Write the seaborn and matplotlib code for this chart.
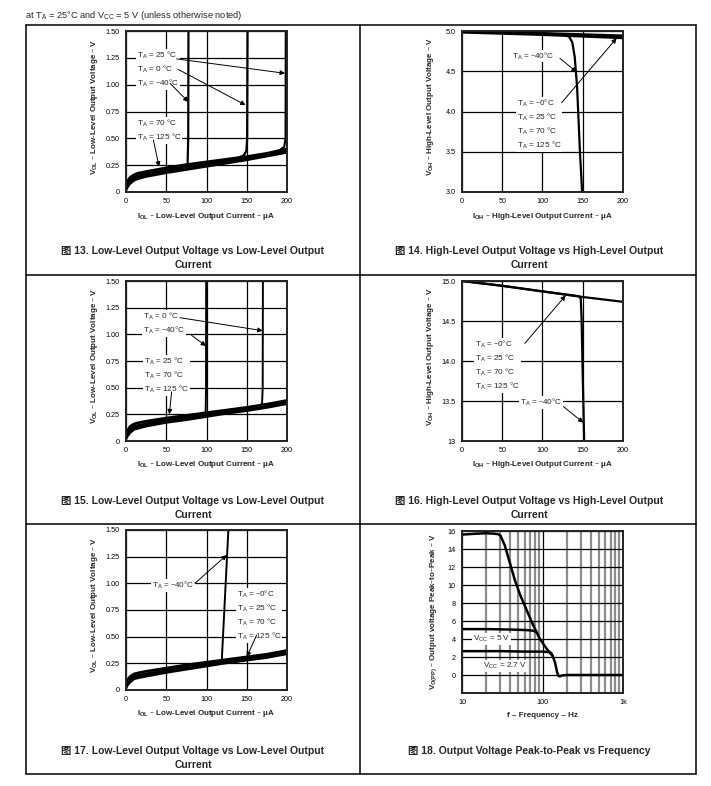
import matplotlib
matplotlib.use("Agg")
import matplotlib.pyplot as plt
from matplotlib.lines import Line2D
from matplotlib.ticker import FixedLocator, NullFormatter
import seaborn as sns

sns.set_style("white")
plt.rcParams["font.family"] = ["Liberation Sans", "Noto Sans CJK SC"]
plt.rcParams["mathtext.default"] = "regular"

# ---- Fig 13: VOL vs IOL (VCC = 5 V) ----
iol_band = [0, 2, 5, 10, 15, 25, 50, 75, 100, 125, 150, 175, 200]
vol13_hot = [0.05, 0.10, 0.135, 0.16, 0.175, 0.19, 0.225, 0.255, 0.28, 0.305, 0.33, 0.36, 0.40]
vol13_mid = [0.035, 0.075, 0.105, 0.135, 0.15, 0.17, 0.205, 0.235, 0.26, 0.29, 0.315, 0.35, 0.385]
vol13_cold = [0.02, 0.05, 0.08, 0.11, 0.125, 0.145, 0.18, 0.21, 0.24, 0.27, 0.30, 0.335, 0.37]
iol13_m40 = [0, 2, 5, 10, 15, 25, 50, 75, 76.5, 77.3, 77.6]
vol13_m40 = [0.03, 0.07, 0.10, 0.13, 0.145, 0.165, 0.20, 0.235, 0.26, 0.5, 1.6]
iol13_0 = [0, 2, 5, 10, 15, 25, 50, 75, 100, 125, 138, 146, 149.5, 150.5, 151]
vol13_0 = [0.03, 0.07, 0.10, 0.13, 0.145, 0.165, 0.20, 0.235, 0.26, 0.29, 0.315, 0.34, 0.38, 0.5, 1.6]
iol13_25 = [0, 2, 5, 10, 15, 25, 50, 75, 100, 125, 150, 175, 191, 196.5, 198.3, 198.6]
vol13_25 = [0.03, 0.07, 0.10, 0.13, 0.145, 0.165, 0.20, 0.235, 0.26, 0.29, 0.32, 0.35, 0.39, 0.42, 0.5, 1.6]

# ---- Fig 14: VOH vs IOH (VCC = 5 V) ----
ioh_line = [0, 50, 100, 150, 200]
voh14_hi = [5.0, 4.985, 4.97, 4.955, 4.94]
voh14_lo = [4.985, 4.97, 4.955, 4.935, 4.915]
ioh14_m40 = [0, 50, 100, 125, 133, 137, 140, 143, 146.5, 149.5]
voh14_m40 = [5.0, 4.985, 4.97, 4.955, 4.93, 4.86, 4.68, 4.3, 3.5, 2.95]

# ---- Fig 15: VOL vs IOL ----
vol15_hot = [0.05, 0.10, 0.135, 0.16, 0.17, 0.185, 0.215, 0.24, 0.265, 0.29, 0.315, 0.345, 0.38]
vol15_mid = [0.035, 0.075, 0.105, 0.135, 0.145, 0.16, 0.195, 0.22, 0.25, 0.275, 0.30, 0.33, 0.365]
vol15_cold = [0.02, 0.05, 0.08, 0.11, 0.12, 0.14, 0.175, 0.2, 0.23, 0.26, 0.285, 0.315, 0.35]
iol15_m40 = [0, 2, 5, 10, 15, 25, 50, 75, 97, 99, 99.4, 99.6]
vol15_m40 = [0.03, 0.07, 0.10, 0.13, 0.14, 0.16, 0.195, 0.22, 0.255, 0.28, 0.5, 1.6]
iol15_0 = [0, 2, 5, 10, 15, 25, 50, 75, 100, 125, 150, 165, 169, 169.8, 170.1]
vol15_0 = [0.03, 0.07, 0.10, 0.13, 0.14, 0.16, 0.195, 0.22, 0.25, 0.275, 0.30, 0.325, 0.35, 0.5, 1.6]

# ---- Fig 16: VOH vs IOH ----
voh16 = [15.0, 14.94, 14.87, 14.80, 14.74]
ioh16_m40 = [0, 50, 100, 145, 147.5, 148.5, 150, 152]
voh16_m40 = [15.0, 14.94, 14.87, 14.81, 14.78, 14.55, 13.8, 12.9]

# ---- Fig 17: VOL vs IOL ----
vol17_hot = [0.05, 0.095, 0.125, 0.15, 0.16, 0.175, 0.205, 0.235, 0.26, 0.285, 0.31, 0.335, 0.37]
vol17_mid = [0.035, 0.07, 0.1, 0.125, 0.135, 0.15, 0.185, 0.215, 0.245, 0.27, 0.295, 0.32, 0.355]
vol17_cold = [0.02, 0.05, 0.075, 0.105, 0.115, 0.13, 0.165, 0.195, 0.225, 0.255, 0.28, 0.305, 0.34]
iol17_m40 = [0, 2, 5, 10, 15, 25, 50, 75, 100, 117, 119, 127.5]
vol17_m40 = [0.03, 0.07, 0.10, 0.125, 0.135, 0.15, 0.185, 0.215, 0.245, 0.265, 0.28, 1.55]

# ---- Fig 18: VO(PP) vs frequency ----
freq_main = [10, 15, 20, 25, 28, 30, 34, 39.5, 45.5, 52.5, 63.6, 76.9, 93, 113, 134, 143, 152, 158, 164, 175, 200, 1000]
vpp_main = [15.6, 15.7, 15.75, 15.7, 15.65, 15.5, 14.4, 12.4, 10.5, 8.95, 7.2, 5.5, 4.0, 2.9, 2.1, 1.4, 0.3, -0.1, -0.15, -0.05, 0, 0]
freq_5v = [10, 20, 40, 60, 72, 78, 84]
vpp_5v = [5.1, 5.1, 5.05, 5.0, 4.95, 4.9, 4.75]
freq_27v = [10, 30, 60, 100, 120, 128, 134]
vpp_27v = [2.65, 2.65, 2.6, 2.6, 2.55, 2.45, 2.1]

vol_ticks = [0, 0.25, 0.5, 0.75, 1.0, 1.25, 1.5]
vol_labels = ["0", "0.25", "0.50", "0.75", "1.00", "1.25", "1.50"]
i_ticks = [0, 50, 100, 150, 200]
captions = [
    "图 13. Low-Level Output Voltage vs Low-Level Output\nCurrent",
    "图 14. High-Level Output Voltage vs High-Level Output\nCurrent",
    "图 15. Low-Level Output Voltage vs Low-Level Output\nCurrent",
    "图 16. High-Level Output Voltage vs High-Level Output\nCurrent",
    "图 17. Low-Level Output Voltage vs Low-Level Output\nCurrent",
    "图 18. Output Voltage Peak-to-Peak vs Frequency",
]

W, H = 711, 786
fig = plt.figure(figsize=(W / 100, H / 100), dpi=100)

TICK = 5.2
LAB = 5.8
ANN = 5.9


def panel(l, t, r, b):
    return fig.add_axes([l / W, 1 - b / H, (r - l) / W, (b - t) / H])


def frame(ax):
    for s in ax.spines.values():
        s.set_color("#222222")
        s.set_linewidth(1.4)
    ax.tick_params(direction="out", length=2, width=0.8, pad=2.5,
                   labelsize=TICK, colors="k")
    ax.grid(True, color="k", lw=0.9)
    ax.set_axisbelow(True)


def line(ax, x, y, lw=2.0):
    sns.lineplot(x=x, y=y, ax=ax, color="k", linewidth=lw, sort=False,
                 estimator=None, legend=False)


def labels(ax, xl, yl):
    ax.set_xlabel(xl, fontsize=LAB, fontweight="bold")
    ax.set_ylabel(yl, fontsize=LAB, fontweight="bold")
    ax.xaxis.set_label_coords(0.5, -0.115)
    ax.yaxis.set_label_coords(-0.16, 0.53)


def vol_axes(ax):
    frame(ax)
    ax.set_xlim(0, 200)
    ax.set_ylim(0, 1.5)
    ax.set_xticks(i_ticks)
    ax.set_yticks(vol_ticks)
    ax.set_yticklabels(vol_labels)
    labels(ax, "I$_{OL}$ – Low-Level Output Current – μA",
           "V$_{OL}$ – Low-Level Output Voltage – V")


def voh_axes(ax):
    frame(ax)
    ax.set_xlim(0, 200)
    ax.set_xticks(i_ticks)
    labels(ax, "I$_{OH}$ – High-Level Output Current – μA",
           "V$_{OH}$ – High-Level Output Voltage – V")


def note(ax, x, y, s, ha="left"):
    ax.text(x, y, s, fontsize=ANN, ha=ha, va="center", linespacing=1.35,
            bbox=dict(fc="white", ec="none", pad=0.6), zorder=5)


def arrow(ax, tail, head):
    ax.annotate("", xy=head, xytext=tail, zorder=6,
                arrowprops=dict(arrowstyle="-|>", color="k", lw=0.7,
                                mutation_scale=7, shrinkA=0, shrinkB=0))


ta = lambda s: "T$_A$ = " + s

# Fig 13
ax = panel(126, 31, 287, 192)
vol_axes(ax)
for v in (vol13_hot, vol13_mid, vol13_cold):
    line(ax, iol_band, v)
line(ax, iol13_m40, vol13_m40, 1.6)
line(ax, iol13_0, vol13_0, 1.6)
line(ax, iol13_25, vol13_25, 1.6)
note(ax, 14, 1.145, "\n".join([ta("25 °C"), ta("0 °C"), ta("–40°C")]))
note(ax, 13.3, 0.57, "\n".join([ta("70 °C"), ta("125 °C")]))
arrow(ax, (63, 1.24), (197.5, 1.106))
arrow(ax, (64.6, 1.143), (148.6, 0.81))
arrow(ax, (54.7, 1.013), (77.4, 0.84))
arrow(ax, (34, 0.485), (41, 0.236))

# Fig 14
ax = panel(462, 31, 623, 192)
voh_axes(ax)
ax.set_ylim(3.0, 5.0)
ax.set_yticks([3.0, 3.5, 4.0, 4.5, 5.0])
ax.set_yticklabels(["3.0", "3.5", "4.0", "4.5", "5.0"])
line(ax, ioh_line, voh14_hi)
line(ax, ioh_line, voh14_lo)
line(ax, ioh14_m40, voh14_m40, 1.6)
note(ax, 61.7, 4.69, ta("–40°C"))
note(ax, 68, 3.84, "\n".join([ta("–0°C"), ta("25 °C"), ta("70 °C"), ta("125 °C")]))
arrow(ax, (121.7, 4.66), (142.5, 4.49))
arrow(ax, (123.8, 4.11), (192, 4.91))

# Fig 15
ax = panel(126, 281, 287, 441)
vol_axes(ax)
for v in (vol15_hot, vol15_mid, vol15_cold):
    line(ax, iol_band, v)
line(ax, iol15_m40, vol15_m40, 1.4)
line(ax, iol15_0, vol15_0, 1.4)
note(ax, 21.5, 1.10, "\n".join([ta("0 °C"), ta("–40°C")]))
note(ax, 22.4, 0.615, "\n".join([ta("25 °C"), ta("70 °C"), ta("125 °C")]))
arrow(ax, (67, 1.156), (169.8, 1.034))
arrow(ax, (81.6, 0.99), (99.4, 0.89))
arrow(ax, (56.7, 0.46), (53.8, 0.25))

# Fig 16
ax = panel(462, 281, 623, 441)
voh_axes(ax)
ax.set_ylim(13, 15)
ax.set_yticks([13, 13.5, 14.0, 14.5, 15.0])
ax.set_yticklabels(["13", "13.5", "14.0", "14.5", "15.0"])
line(ax, ioh_line, voh16, 1.6)
line(ax, ioh16_m40, voh16_m40, 1.6)
note(ax, 16, 13.94, "\n".join([ta("–0°C"), ta("25 °C"), ta("70 °C"), ta("125 °C")]))
note(ax, 72, 13.48, ta("–40°C"))
arrow(ax, (78, 14.22), (128.8, 14.82))
arrow(ax, (126, 13.43), (150.7, 13.23))

# Fig 17
ax = panel(126, 530, 287, 690)
vol_axes(ax)
for v in (vol17_hot, vol17_mid, vol17_cold):
    line(ax, iol_band, v)
line(ax, iol17_m40, vol17_m40, 1.4)
note(ax, 32, 0.978, ta("–40°C"))
note(ax, 137.5, 0.695, "\n".join([ta("–0°C"), ta("25 °C"), ta("70 °C"), ta("125 °C")]))
arrow(ax, (85.7, 1.0), (125, 1.265))
arrow(ax, (162.3, 0.515), (150, 0.31))

# Fig 18
ax = panel(462, 531, 623, 693)
frame(ax)
ax.set_xscale("log")
ax.set_xlim(10, 1000)
ax.set_ylim(-2, 16)
ax.set_yticks(list(range(0, 17, 2)))
ax.set_xticks([10, 100, 1000])
ax.set_xticklabels(["10", "100", "1k"])
ax.xaxis.set_minor_locator(FixedLocator([k * d for d in (10, 100) for k in range(2, 10)]))
ax.xaxis.set_minor_formatter(NullFormatter())
ax.tick_params(axis="x", which="minor", length=0)
ax.grid(True, which="minor", axis="x", color="#8c8c8c", lw=1.6)
line(ax, freq_main, vpp_main, 1.8)
line(ax, freq_5v, vpp_5v, 1.8)
line(ax, freq_27v, vpp_27v, 1.8)
note(ax, 13.8, 4.0, "V$_{CC}$ = 5 V")
note(ax, 18.4, 1.0, "V$_{CC}$ = 2.7 V")
labels(ax, "f – Frequency – Hz", "V$_{O(PP)}$ – Output voltage Peak–to–Peak – V")
ax.yaxis.set_label_coords(-0.14, 0.5)

# captions
cap_pos = [(193, 258), (529, 258), (193, 508), (529, 508), (193, 758), (529, 751.5)]
for (cx, cy), txt in zip(cap_pos, captions):
    fig.text(cx / W, 1 - cy / H, txt, ha="center", va="center", fontsize=7.5,
             fontweight="bold", linespacing=1.4)

fig.text(25 / W, 1 - 15 / H, "at T$_A$ = 25°C and V$_{CC}$ = 5 V (unless otherwise noted)",
         ha="left", va="center", fontsize=6.7)

# table rules
rules = [((26, 25), (696, 25)), ((26, 275), (696, 275)), ((26, 524), (696, 524)),
         ((26, 774), (696, 774)), ((26, 25), (26, 774)), ((360, 25), (360, 774)),
         ((696, 25), (696, 774))]
for (x0, y0), (x1, y1) in rules:
    fig.add_artist(Line2D([x0 / W, x1 / W], [1 - y0 / H, 1 - y1 / H],
                          transform=fig.transFigure, color="k", lw=1.1))

fig.savefig("out.png", dpi=100)
